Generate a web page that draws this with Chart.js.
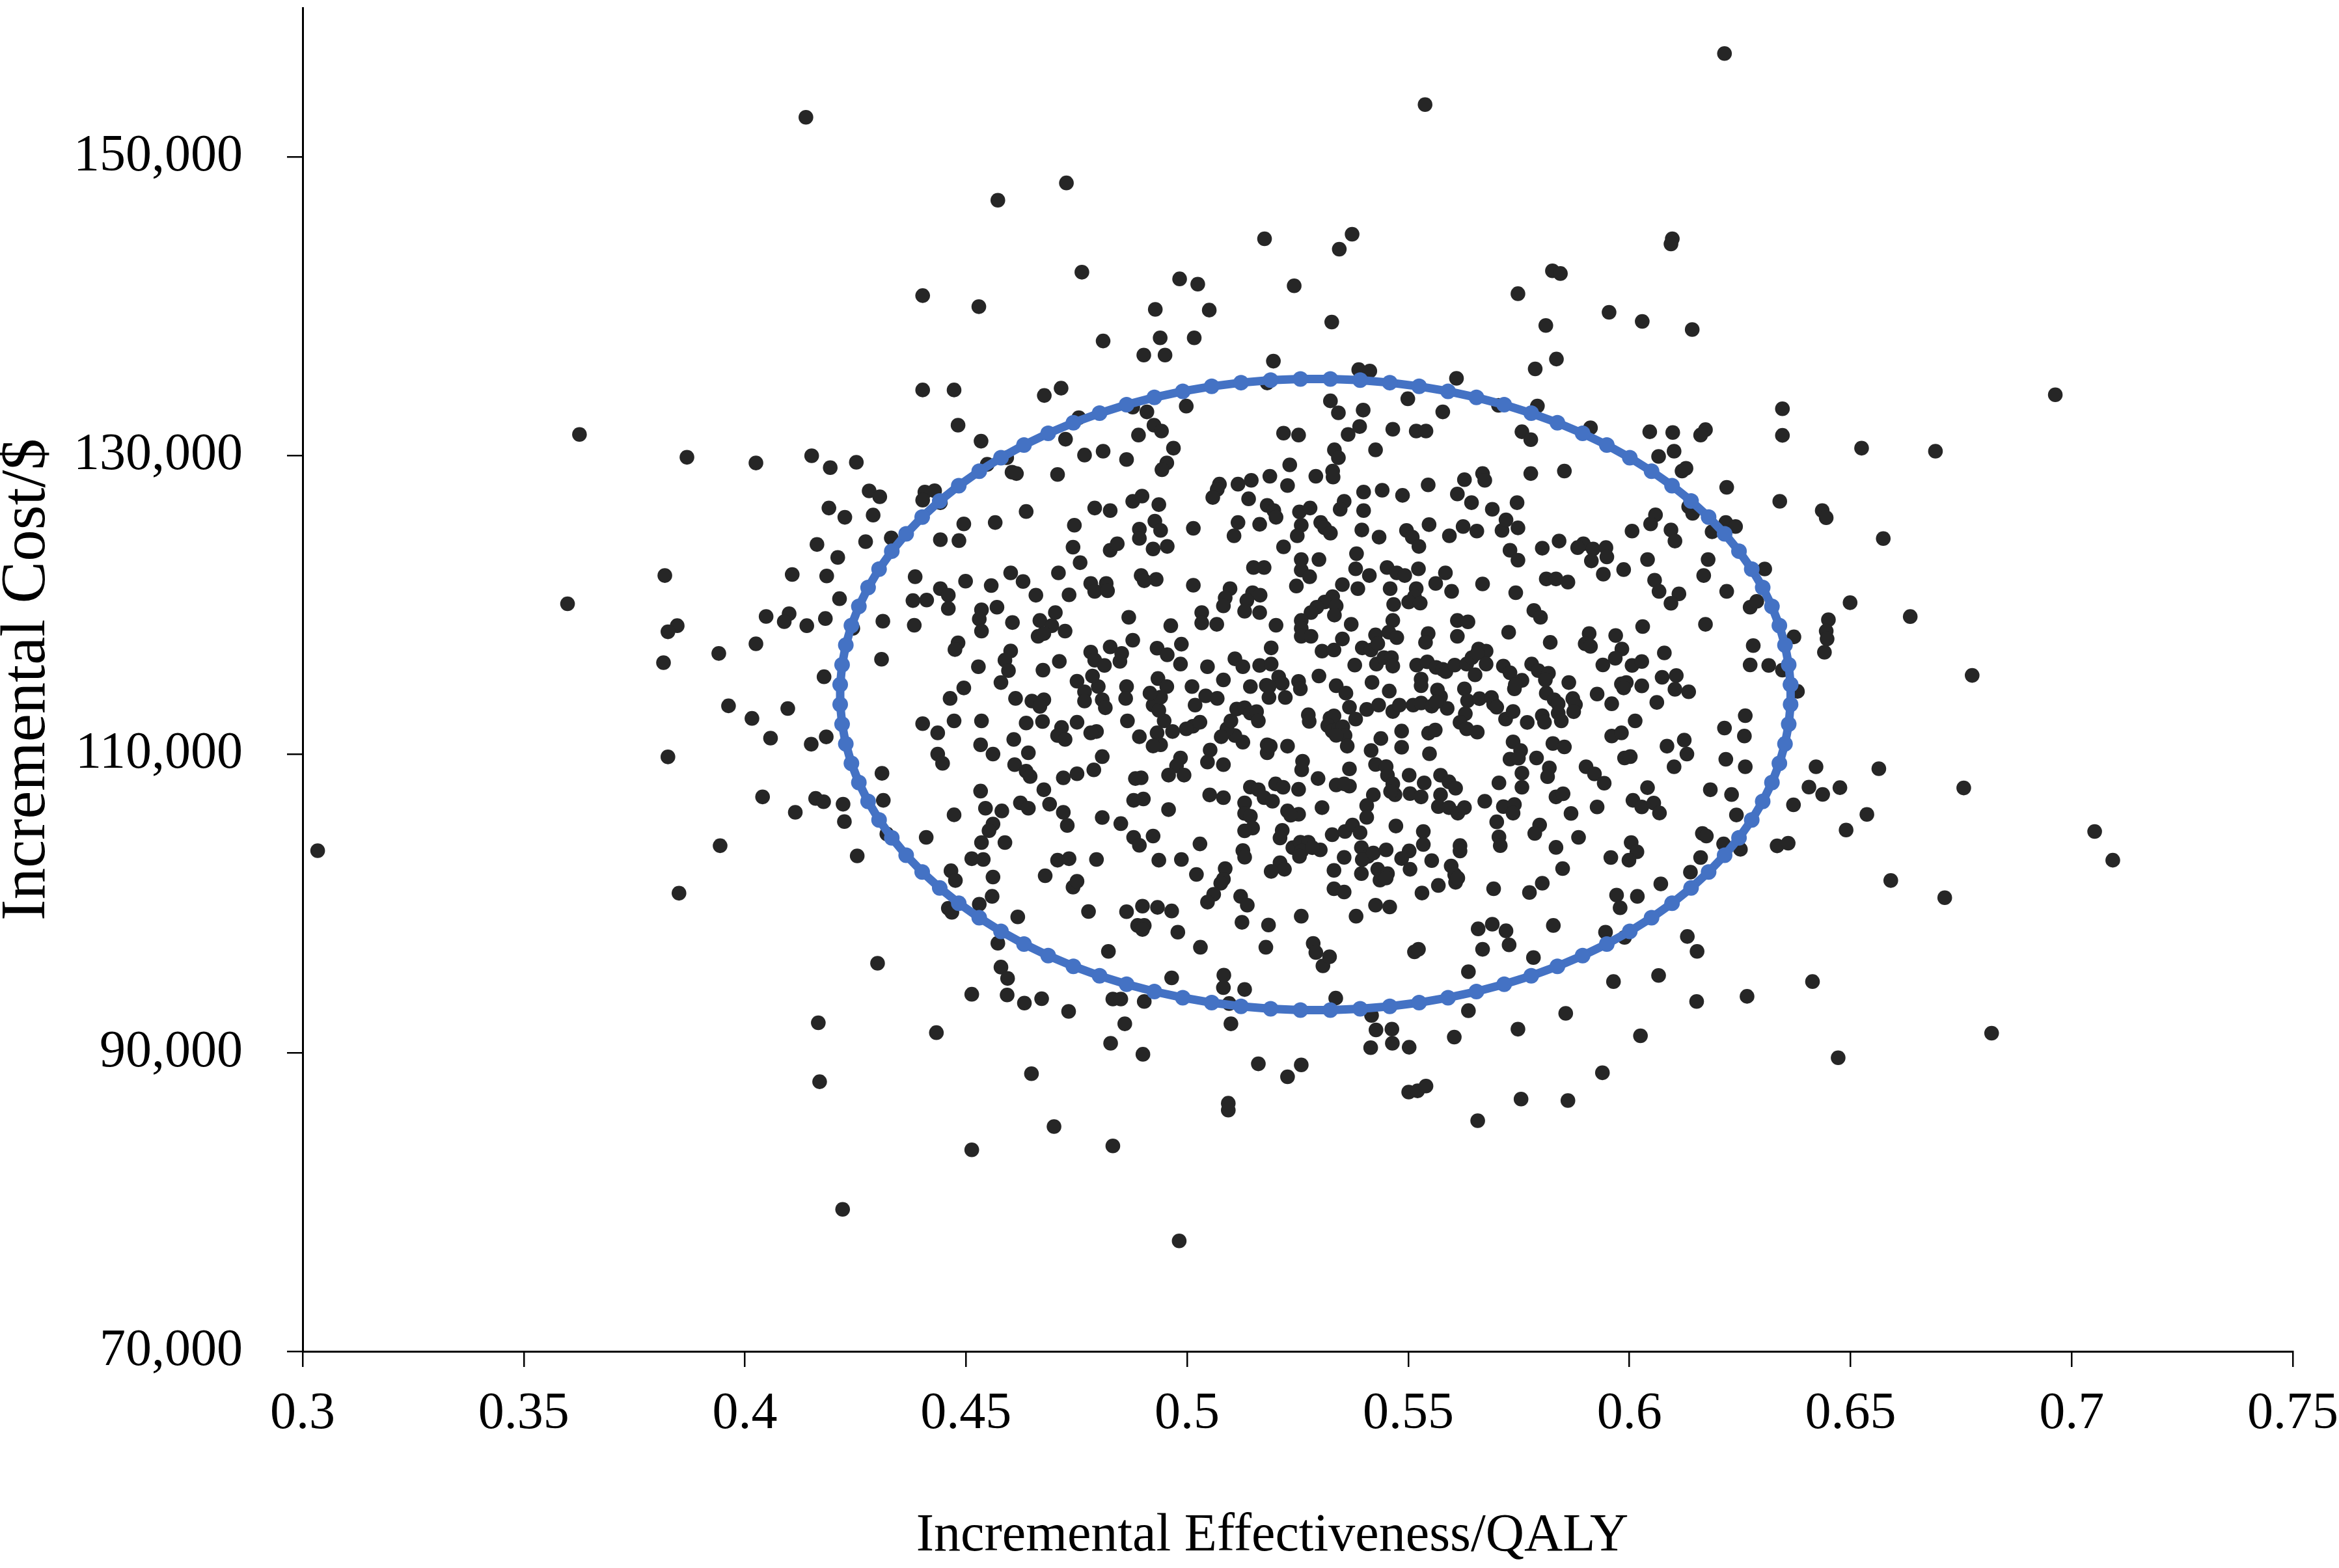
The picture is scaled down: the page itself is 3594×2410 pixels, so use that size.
<!DOCTYPE html>
<html>
<head>
<meta charset="utf-8">
<script src="https://cdn.jsdelivr.net/npm/chart.js@4.4.1/dist/chart.umd.min.js"></script>
<style>
html,body{margin:0;padding:0;background:#ffffff;}
#wrap{width:3594px;height:2410px;position:relative;}
</style>
</head>
<body>
<div id="wrap"><canvas id="c" width="3594" height="2410"></canvas></div>
<script>
// ---------- axis ticks ----------
const effTicks = [0.3, 0.35, 0.4, 0.45, 0.5, 0.55, 0.6, 0.65, 0.7, 0.75];
const costTicks = [70000, 90000, 110000, 130000, 150000];
const xTitle = 'Incremental Effectiveness/QALY';
const yTitle = 'Incremental Cost/$';

// ---------- simulation points [effectiveness, cost] ----------
const upperLeftPts = [[0.4138,152670],[0.3626,131420]];
const upperMidPts = [[0.5538,153520],[0.4727,148270],[0.4572,147110],[0.5175,144530],[0.5373,144830],[0.5344,143830],[0.4762,142290],[0.4983,141840],[0.5024,141490],[0.5242,141380],[0.5748,140850],[0.4402,140720],[0.4529,139980],[0.4928,139800],[0.5050,139750],[0.5327,138950],[0.4810,137680],[0.4939,137890],[0.5016,137890],[0.4902,136740],[0.4950,136740],[0.5195,136330],[0.5388,135760],[0.5413,135670],[0.5609,135180],[0.4402,134400],[0.4473,134400],[0.4715,134520],[0.4677,134030],[0.5181,134870],[0.5324,133670],[0.5499,133810],[0.5704,133370],[0.4755,132540],[0.4877,133250],[0.4909,132930],[0.4998,133320],[0.5342,132870],[0.5398,133050],[0.5578,132930],[0.4482,132040],[0.4925,132040],[0.4942,131650],[0.4890,131380],[0.4725,131100],[0.4534,130970],[0.5218,131510],[0.5252,131380],[0.5364,131420],[0.5390,131950],[0.5465,131770],[0.5518,131650],[0.5540,131650],[0.5757,131600]];
const upperRightPts = [[0.6215,156940],[0.6097,144530],[0.6094,144180],[0.5826,142380],[0.5844,142200],[0.5954,139600],[0.5811,138720],[0.6029,138990],[0.6142,138450],[0.5787,135810],[0.5835,136470],[0.6963,134080],[0.5792,133330],[0.6346,133140],[0.5912,131870],[0.6046,131600],[0.6098,131550],[0.6172,131740],[0.6161,131380],[0.6346,131360],[0.5777,131070],[0.6525,130500],[0.6692,130300]];
const midLeftPts = [[0.3869,129890],[0.4025,129510],[0.4151,129990],[0.4193,129200],[0.4252,129560],[0.4281,127640],[0.4305,127250],[0.4190,126490],[0.4226,125870],[0.4290,126020],[0.4163,124050],[0.4273,124240],[0.4331,124490],[0.4210,123180],[0.3819,121970],[0.4107,122040],[0.4185,121940],[0.3599,120080],[0.4214,120420],[0.4048,119230],[0.4100,119410],[0.4089,118880],[0.4140,118610],[0.4182,119090],[0.4244,118430],[0.4312,118910],[0.3847,118610],[0.3826,118200],[0.4025,117400],[0.3941,116750],[0.3816,116130],[0.4309,116360],[0.4179,115190],[0.3963,113240],[0.4016,112400],[0.4097,113060],[0.4058,111080],[0.4150,110670],[0.4184,111160],[0.3826,109820],[0.4310,108720],[0.4040,107140],[0.4160,107040],[0.4178,106820],[0.4222,106650],[0.4313,106910],[0.4114,106110],[0.4225,105490],[0.4321,104660],[0.3034,103540],[0.3944,103870],[0.4254,103190]];
const corePts = [[0.4548,129420],[0.4592,129860],[0.4604,128890],[0.4614,128800],[0.4707,128740],[0.4768,130040],[0.4810,130300],[0.4863,129740],[0.4954,129510],[0.4943,129060],[0.4969,130500],[0.5333,130390],[0.5342,129860],[0.5426,130390],[0.5232,129380],[0.5329,128970],[0.5330,128570],[0.5291,128620],[0.5187,128620],[0.5227,128000],[0.5073,128090],[0.5068,127740],[0.5058,127200],[0.5115,128090],[0.5145,128350],[0.5139,127110],[0.5545,128040],[0.5399,127560],[0.5441,127680],[0.5487,127340],[0.5627,128390],[0.5668,128800],[0.5673,128350],[0.5611,127430],[0.5643,126850],[0.5690,126410],[0.5746,126850],[0.4407,127560],[0.4429,127650],[0.4402,127020],[0.4442,126850],[0.4636,126260],[0.4566,125520],[0.4495,125430],[0.4442,124370],[0.4484,124310],[0.4791,126490],[0.4826,126320],[0.4877,126940],[0.4898,127290],[0.4936,126720],[0.4745,125340],[0.4892,125080],[0.4892,124460],[0.4927,125610],[0.4940,124990],[0.4923,123750],[0.4955,123920],[0.5014,125130],[0.4742,123870],[0.4826,123660],[0.4842,124100],[0.4758,122830],[0.4709,122150],[0.4601,122150],[0.4629,121570],[0.4499,121590],[0.4557,121300],[0.4385,121890],[0.4442,121090],[0.4460,120650],[0.4460,119760],[0.4411,120330],[0.4380,120290],[0.4658,120650],[0.4733,120680],[0.4782,121440],[0.4791,120910],[0.4817,121440],[0.4820,120950],[0.4896,121970],[0.4930,121710],[0.4903,121620],[0.5014,121320],[0.5181,126670],[0.5196,126320],[0.5201,125870],[0.5254,126230],[0.5278,126490],[0.5302,125520],[0.5311,125160],[0.5324,124810],[0.5258,125340],[0.5249,124630],[0.5218,123890],[0.5164,125400],[0.5115,125520],[0.5106,124630],[0.5355,126940],[0.5346,126410],[0.5399,126320],[0.5395,125020],[0.5434,124540],[0.5496,124990],[0.5509,124540],[0.5524,123920],[0.5547,125380],[0.5593,124630],[0.5624,125250],[0.5655,124950],[0.5712,124990],[0.5721,125700],[0.5748,125160],[0.5730,123660],[0.5383,123430],[0.5258,123040],[0.5298,123040],[0.5150,122510],[0.5174,122510],[0.5381,122420],[0.5412,121970],[0.5452,122510],[0.5474,122150],[0.5492,121970],[0.5523,122420],[0.5258,122330],[0.5277,121890],[0.5247,121270],[0.5584,122150],[0.5562,121440],[0.5598,120910],[0.5668,121410],[0.5748,123000],[0.5743,120820],[0.5351,121360],[0.5386,121090],[0.5459,121090],[0.5518,121090],[0.5514,120560],[0.5467,120030],[0.5501,120200],[0.5527,120120],[0.5465,118960],[0.5329,120560],[0.5311,120200],[0.5337,119940],[0.5293,119850],[0.5280,119490],[0.5333,119320],[0.5258,118960],[0.5148,120820],[0.5165,120650],[0.5135,120290],[0.5130,119580],[0.5164,119490],[0.5097,121090],[0.5086,120470],[0.5082,119940],[0.5033,119490],[0.5033,118790],[0.5067,118700],[0.4868,119170],[0.4963,118610],[0.5201,118640],[0.5371,118700],[0.5611,118960],[0.5635,118870],[0.5727,118170],[0.5545,118080],[0.5611,117900],[0.5426,117990],[0.5456,118170],[0.5474,117810],[0.5351,117720],[0.5258,118430],[0.5258,117900],[0.5280,117900],
[0.4605,118820],[0.4535,119670],[0.4570,119850],[0.4530,119050],[0.4535,118250],[0.4667,118960],[0.4702,119490],[0.4694,118610],[0.4724,118250],[0.4663,117900],[0.4676,118080],[0.4482,117460],[0.4475,117010],[0.4601,116920],[0.4588,116300],[0.4596,115600],[0.4579,114800],[0.4528,115860],[0.4711,116220],[0.4674,115630],[0.4782,116840],[0.4791,116300],[0.4813,115950],[0.4826,117190],[0.4852,116750],[0.4848,116220],[0.4877,117640],[0.4932,117100],[0.4955,116660],[0.4987,117370],[0.4985,116040],[0.5046,115860],[0.5108,116390],[0.5126,115860],[0.5164,115950],[0.5181,110630],[0.5181,110100],[0.5126,110810],[0.5108,111250],[0.5090,111700],[0.5077,111170],[0.5099,112230],[0.5112,113030],[0.5130,113110],[0.5143,112760],[0.5157,112850],[0.5161,112230],[0.5052,110280],[0.5046,109480],[0.5082,109300],[0.5013,111870],[0.5029,112140],[0.4998,111700],[0.4985,109750],[0.4976,109220],[0.4958,108600],[0.4993,108600],[0.4948,112230],[0.4932,111430],[0.4940,110630],[0.4967,111520],[0.4923,110550],[0.4892,111170],[0.4923,113290],[0.4936,112940],[0.5011,114530],[0.5042,113910],[0.5068,113740],[0.5018,113290],[0.5082,114980],[0.5143,114530],[0.5179,114620],[0.4934,115070],[0.4954,114530],[0.4940,113820],[0.4916,114090],[0.4863,114530],[0.4861,113740],[0.4799,114530],[0.4768,114180],[0.4768,113560],[0.4808,113650],[0.4751,114890],[0.4786,115240],[0.4815,113110],[0.4865,112230],[0.4795,111520],[0.4782,111430],[0.4751,112140],[0.4716,111790],[0.4707,111250],[0.4724,110990],[0.4676,113650],[0.4649,113560],[0.4667,113200],[0.4673,112190],[0.4636,112090],[0.4612,113740],[0.4464,113740],[0.4495,114440],[0.4535,112230],[0.4473,112230],[0.4402,112050],[0.4436,111430],[0.4533,110630],[0.4561,110010],[0.4608,110990],[0.4641,110100],[0.4610,109300],[0.4636,108860],[0.4645,108510],[0.4436,110010],[0.4447,109390],[0.4808,109840],[0.4789,108950],[0.4751,108690],[0.4720,108420],[0.4676,107620],[0.4533,107530],[0.4544,106380],[0.4581,106200],[0.4623,106740],[0.4641,106380],[0.4689,106650],[0.4720,106110],[0.4473,105940],[0.4561,105320],[0.4552,104880],[0.4535,104080],[0.4588,104080],[0.4513,103000],[0.4539,102950],[0.4729,105230],[0.4410,104430],[0.4808,105760],[0.4850,105350],[0.4883,108370],[0.4896,108420],[0.4879,106910],[0.4901,107000],[0.4958,106290],[0.5051,107270],[0.5082,107090],[0.4879,104430],[0.4923,104520],[0.4892,103900],[0.5029,103990],[0.4733,103000],[0.4707,102900],[0.4795,102950],[0.4936,102900],[0.5130,106740],[0.5143,107800],[0.5161,107620],[0.5174,107090],[0.5130,106030],[0.5143,105850],[0.5148,105050],[0.5130,104870],[0.5126,103550],[0.5130,103100],[0.4383,118640]];
const denseCorePts = [[0.5190,117120],[0.5305,116910],[0.5332,116980],[0.5396,117120],[0.5416,116980],[0.5431,117410],[0.5539,117490],[0.5659,117050],[0.5676,116910],[0.5190,116040],[0.5207,115170],[0.5215,114740],[0.5222,113800],[0.5252,114880],[0.5256,114380],[0.5298,115240],[0.5379,115970],[0.5428,116040],[0.5445,116470],[0.5462,116470],[0.5465,115900],[0.5519,115970],[0.5543,116190],[0.5563,115820],[0.5578,115680],[0.5585,115530],[0.5605,115970],[0.5632,116040],[0.5644,116470],[0.5651,115320],[0.5656,116760],[0.5676,116040],[0.5715,115900],[0.5730,115460],[0.5757,114950],[0.5740,114380],[0.5337,114590],[0.5359,114090],[0.5418,114810],[0.5457,114230],[0.5185,114520],[0.5185,113800],[0.5529,115030],[0.5529,114590],[0.5566,114300],[0.5573,113870],[0.5627,114380],[0.5634,113580],[0.5661,113720],[0.5688,113800],[0.5693,113360],[0.5700,113150],[0.5742,114660],[0.5274,112640],[0.5276,112200],[0.5323,112420],[0.5332,112570],[0.5318,111920],[0.5328,111550],[0.5342,111700],[0.5352,111840],[0.5367,113150],[0.5381,112350],[0.5357,111260],[0.5337,111260],[0.5362,110540],[0.5406,113000],[0.5433,113290],[0.5465,112860],[0.5480,113290],[0.5511,113290],[0.5529,113430],[0.5553,113220],[0.5588,113070],[0.5563,113510],[0.5629,112710],[0.5617,112130],[0.5632,111700],[0.5656,111480],[0.5720,112350],[0.5737,112860],[0.5769,112130],[0.5227,110540],[0.5188,110540],[0.5485,111550],[0.5485,110470],[0.5546,111410],[0.5561,111620],[0.5438,111050],[0.5416,110250],[0.5548,110030],[0.5737,110830],[0.5730,109670],[0.5754,110250],[0.5749,109740],[0.5261,109530],[0.5259,108950],[0.5367,109020],[0.5296,108370],[0.5426,109310],[0.5450,109170],[0.5453,108590],[0.5465,108010],[0.5470,107290],[0.5460,107500],[0.5502,108590],[0.5536,108080],[0.5504,107360],[0.5529,107140],[0.5573,108590],[0.5592,108150],[0.5607,107720],[0.5757,108730],[0.5757,107790],[0.5705,108080],[0.5200,108010],[0.5217,107790],[0.5252,107650],[0.5337,107940],[0.5367,107860],[0.5355,108010],[0.5421,107280],[0.5193,106850],[0.5227,106200],[0.5252,105980],[0.5234,105910],[0.5305,106420],[0.5406,106560],[0.5406,105770],[0.5573,107280],[0.5568,106490],[0.5592,106420],[0.5612,106050],[0.5627,106420],[0.5673,106850],[0.5715,106490],[0.5740,106630],[0.5737,106050],[0.5700,105470],[0.5215,104900],[0.5210,104390],[0.5328,104610],[0.5357,104820],[0.5374,105260],[0.5391,104750],[0.5472,105190],[0.5534,104820],[0.5534,103950],[0.5617,103880],[0.5617,103520],[0.5705,104460],[0.5708,103880],[0.5239,103740],[0.5256,104100],[0.5274,104100],[0.5259,103520],[0.5254,103160],[0.5301,103590],[0.5283,103740],[0.5394,103740],[0.5409,103160],[0.5396,102940],[0.5421,103380],[0.5450,103590],[0.5502,103520],[0.5485,103010],[0.5553,102870],[0.5597,102510],[0.5605,101930],[0.5607,101420],[0.5210,102730],[0.5220,102290],[0.5190,102150],[0.5355,103090],[0.5332,102220],[0.5394,102000],[0.5431,102290],[0.5453,102000],[0.5436,101570],[0.5450,101710],[0.5504,102290],[0.5568,101210],[0.5612,101710],[0.5693,100990],[0.5332,100990],[0.5355,100770],[0.5531,100700]];
const midRightPts = [[0.6220,127880],[0.6340,126940],[0.6436,126320],[0.6445,125840],[0.6574,124450],[0.6499,120150],[0.6635,119220],[0.6450,119010],[0.6445,118250],[0.6447,117720],[0.6441,116830],[0.6372,117860],[0.6775,115280],[0.6380,114210],[0.6346,115630],[0.6422,109160],[0.6564,109030],[0.6406,107800],[0.6437,107310],[0.6476,107760],[0.6756,107740],[0.6371,106610],[0.6537,105970],[0.6490,104920],[0.7052,104820],[0.6334,103860],[0.6359,104040],[0.6242,105930],[0.6306,122410],[0.6273,119850],[0.6288,120240],[0.6280,117280],[0.6273,115980],[0.6315,115950],[0.6183,107620],[0.6231,107300],
[0.5777,128800],[0.5853,128970],[0.6066,129950],[0.6101,130300],[0.6119,128970],[0.6128,129150],[0.6134,126580],[0.6143,126140],[0.6059,126040],[0.6048,125430],[0.6218,125520],[0.6240,125250],[0.6187,124900],[0.6006,124950],[0.6094,125020],[0.6103,124280],[0.5841,124280],[0.5803,123800],[0.5896,124100],[0.5883,123840],[0.5918,123750],[0.5947,123840],[0.5914,122950],[0.5949,123220],[0.6041,123040],[0.6178,123040],[0.5941,122060],[0.5987,122370],[0.6168,121970],[0.5812,121740],[0.5834,121740],[0.5861,121530],[0.6057,121660],[0.6067,120910],[0.6112,120740],[0.6094,120110],[0.6220,120910],[0.5784,119630],[0.5799,119170],[0.6172,118700],[0.6030,118550],[0.5821,117490],[0.5909,118080],[0.5900,117400],[0.5912,117220],[0.5969,117950],[0.5983,117050],[0.5968,116430],[0.5940,115980],[0.6006,115950],[0.6028,116210],[0.6079,116790],[0.5779,116040],[0.5794,115600],[0.5817,115420],[0.5810,114980],[0.5863,114800],[0.5982,114710],[0.5993,114800],[0.5987,114440],[0.6028,114580],[0.6074,115150],[0.6106,115270],[0.6103,114350],[0.6134,114180],[0.5927,114030],[0.5960,113380],[0.6062,113470],[0.5812,114090],[0.5830,113650],[0.5839,113380],[0.5872,113730],[0.5878,113320],[0.5874,112850],[0.5803,112580],[0.5808,112140],[0.5839,112760],[0.5846,112230],[0.6013,112230],[0.6262,112580],[0.6215,111750],[0.6260,111220],[0.5960,111220],[0.5982,111430],[0.5827,110720],[0.5853,110490],[0.6085,110540],[0.6124,110950],[0.6130,110010],[0.5790,109750],[0.5989,109750],[0.6002,109840],[0.6101,109160],[0.6218,109660],[0.6262,109160],[0.5819,109080],[0.5815,108500],[0.5902,109160],[0.5921,108680],[0.5943,108060],[0.6041,107760],[0.5834,107140],[0.5850,107350],[0.6008,106910],[0.6028,106470],[0.6055,106730],[0.6068,106060],[0.5927,106470],[0.5868,106030],[0.5797,105260],[0.5786,104690],[0.6165,104690],[0.6174,104520],[0.5885,104430],[0.5834,103760],[0.5958,103080],[0.6004,104080],[0.6017,103460],[0.5999,102900],[0.6161,103080],[0.6213,103990],[0.6251,103630]];
const lowerLeftPts = [[0.3851,100690],[0.4300,96000],[0.4166,92010],[0.4169,88060],[0.4221,79510]];
const lowerMidPts = [[0.4433,91350],[0.4513,93920],[0.4513,83500],[0.4648,88600],[0.4699,85060],[0.4832,83760],[0.4982,77400],[0.4827,90640],[0.4900,89900],[0.4859,91940],[0.4732,92770],[0.4632,93330],[0.4671,93620],[0.4593,93870],[0.4832,93600],[0.4850,93600],[0.4903,93440],[0.5093,86620],[0.5093,86160],[0.5099,91940],[0.5082,94360],[0.5083,95200],[0.5095,93300],[0.4965,95020],[0.5130,94240],[0.5161,89260],[0.5227,88390],[0.5258,89190],[0.5336,93660],[0.5417,92500],[0.5427,91530],[0.5463,91580],[0.5415,90340],[0.5464,90640],[0.5502,90370],[0.5501,87370],[0.5521,87450],[0.5540,87770],[0.5604,91050],[0.5657,85450],[0.5636,92820],[0.5636,95430],[0.5748,91580],[0.5755,86900],
[0.4466,102190],[0.4476,101540],[0.4561,101770],[0.4559,100480],[0.4530,99950],[0.4460,99680],[0.4468,99410],[0.4617,99100],[0.4572,97340],[0.4579,95740],[0.4594,94980],[0.4679,101860],[0.4742,101100],[0.4751,101490],[0.4777,99460],[0.4822,96790],[0.4863,99450],[0.4899,99820],[0.4933,99740],[0.4965,99500],[0.4888,98530],[0.4903,98530],[0.4899,98260],[0.4979,98080],[0.5030,97070],[0.4987,102950],[0.5021,101950],[0.5086,102340],[0.5082,101630],[0.5076,101360],[0.5060,100620],[0.5046,100090],[0.5121,100480],[0.5136,99890],[0.5124,98740],[0.5184,98560],[0.5178,97070],[0.5258,99150],[0.5285,97330],[0.5291,96720],[0.5307,95820],[0.5322,96430],[0.5382,99150],[0.5426,99890],[0.5458,99770],[0.5514,96760],[0.5523,96930],[0.5658,98300],[0.5690,98610],[0.5721,98170],[0.5728,97230],[0.5668,96930]];
const lowerRightPts = [[0.6591,101540],[0.6713,100390],[0.7093,102900],[0.5849,102340],[0.5803,101360],[0.5774,100740],[0.5971,100560],[0.5979,99710],[0.6018,100480],[0.6071,101310],[0.6138,102100],[0.5828,98530],[0.5946,98080],[0.5989,97730],[0.6131,97790],[0.6153,96790],[0.5783,96380],[0.5964,94770],[0.6066,95180],[0.6414,94770],[0.6266,93780],[0.6152,93440],[0.5856,92640],[0.6819,91310],[0.6025,91140],[0.6472,89670],[0.5939,88660],[0.5861,86800]];

// ---------- confidence ellipse ----------
const ellipseEff = [0.63645,0.63602,0.63518,0.63391,0.63223,0.63014,0.62766,0.62478,0.62153,0.61791,0.61394,0.60964,0.60501,0.60009,0.59489,0.58942,0.58372,0.57780,0.57169,0.56541,0.55899,0.55245,0.54582,0.53912,0.53238,
0.52562,0.51888,0.51218,0.50555,0.49901,0.49259,0.48631,0.48020,0.47428,0.46858,0.46311,0.45791,0.45299,0.44836,0.44406,0.44009,0.43647,0.43322,0.43034,0.42786,0.42577,0.42409,0.42282,0.42198,0.42155,
0.42155,0.42198,0.42282,0.42409,0.42577,0.42786,0.43034,0.43322,0.43647,0.44009,0.44406,0.44836,0.45299,0.45791,0.46311,0.46858,0.47428,0.48020,0.48631,0.49259,0.49901,0.50555,0.51218,0.51888,0.52562,
0.53238,0.53912,0.54582,0.55245,0.55899,0.56541,0.57169,0.57780,0.58372,0.58942,0.59489,0.60009,0.60501,0.60964,0.61394,0.61791,0.62153,0.62478,0.62766,0.63014,0.63223,0.63391,0.63518,0.63602,0.63645,
0.63645];
const ellipseCost = [114664,115990,117309,118614,119901,121164,122400,123602,124766,125888,126963,127987,128955,129865,130712,131493,132205,132845,133410,133900,134310,134641,134890,135056,135140,
135140,135056,134890,134641,134310,133900,133410,132845,132205,131493,130712,129865,128955,127987,126963,125888,124766,123602,122400,121164,119901,118614,117309,115990,114664,
113336,112010,110691,109386,108099,106836,105600,104398,103234,102112,101037,100013,99045,98135,97288,96507,95795,95155,94590,94100,93690,93359,93110,92944,92860,
92860,92944,93110,93359,93690,94100,94590,95155,95795,96507,97288,98135,99045,100013,101037,102112,103234,104398,105600,106836,108099,109386,110691,112010,113336,
114664];

// ---------- build chart ----------
const allPts = [].concat(upperLeftPts, upperMidPts, upperRightPts, midLeftPts, corePts, denseCorePts, midRightPts, lowerLeftPts, lowerMidPts, lowerRightPts);
const scatterData = allPts.map(p => ({x: p[0], y: p[1]}));
const ellipseData = ellipseEff.map((v, i) => ({x: v, y: ellipseCost[i]}));

const FONT = "'Liberation Serif', 'Times New Roman', Times, serif";
Chart.defaults.font.family = FONT;
Chart.defaults.color = '#000000';

// x-axis title, drawn slightly left of the plot centre as in the original
const xTitlePlugin = {
  id: 'xTitleText',
  afterDraw(chart) {
    const { ctx, chartArea } = chart;
    ctx.save();
    ctx.font = "82px " + FONT;
    ctx.fillStyle = '#000000';
    ctx.textAlign = 'center';
    ctx.textBaseline = 'middle';
    ctx.fillText(xTitle, (chartArea.left + chartArea.right) / 2 - 39, chart.height - 49);
    ctx.restore();
  }
};

new Chart(document.getElementById('c'), {
  type: 'scatter',
  plugins: [xTitlePlugin],
  data: {
    datasets: [
      {
        label: 'ellipse',
        data: ellipseData,
        showLine: true,
        order: 0,
        borderColor: '#4472C4',
        borderWidth: 13,
        backgroundColor: '#4472C4',
        pointBackgroundColor: '#4472C4',
        pointBorderWidth: 0,
        pointRadius: 12,
        pointHoverRadius: 12,
        tension: 0,
        fill: false
      },
      {
        label: 'simulations',
        data: scatterData,
        order: 1,
        backgroundColor: '#262626',
        pointBackgroundColor: '#262626',
        borderWidth: 0,
        pointBorderWidth: 0,
        pointRadius: 11.3,
        pointHoverRadius: 11.3
      }
    ]
  },
  options: {
    responsive: false,
    devicePixelRatio: 1,
    animation: false,
    events: [],
    layout: { padding: { left: 0, right: 71, top: 4, bottom: 0 } },
    plugins: { legend: { display: false }, tooltip: { enabled: false } },
    scales: {
      x: {
        type: 'linear',
        min: 0.3,
        max: 0.75,
        afterBuildTicks: (s) => { s.ticks = effTicks.map(v => ({ value: v })); },
        afterFit: (s) => { s.height = 333; s.paddingLeft = 0; s.paddingRight = 0; },
        ticks: {
          color: '#000000',
          font: { size: 80, family: FONT },
          padding: 25,
          maxRotation: 0,
          autoSkip: false,
          callback: (v) => String(Number(v.toFixed(2)))
        },
        grid: { display: true, drawOnChartArea: false, drawTicks: true, tickLength: 24, color: '#000000', lineWidth: 2.5 },
        border: { display: true, color: '#000000', width: 3 },
        title: { display: false, text: xTitle }
      },
      y: {
        type: 'linear',
        min: 70000,
        max: 160000,
        afterBuildTicks: (s) => { s.ticks = costTicks.map(v => ({ value: v })); },
        afterFit: (s) => { s.width = 465; s.paddingTop = 0; s.paddingBottom = 0; },
        ticks: {
          color: '#000000',
          font: { size: 80, family: FONT },
          padding: 68,
          autoSkip: false,
          callback: (v) => Number(v).toLocaleString('en-US')
        },
        grid: { display: true, drawOnChartArea: false, drawTicks: true, tickLength: 24, color: '#000000', lineWidth: 2.5 },
        border: { display: true, color: '#000000', width: 3 },
        title: { display: true, text: yTitle, color: '#000000', font: { size: 97, family: FONT, lineHeight: 0.86 }, padding: { top: 1, bottom: 0 } }
      }
    }
  }
});
</script>
</body>
</html>
